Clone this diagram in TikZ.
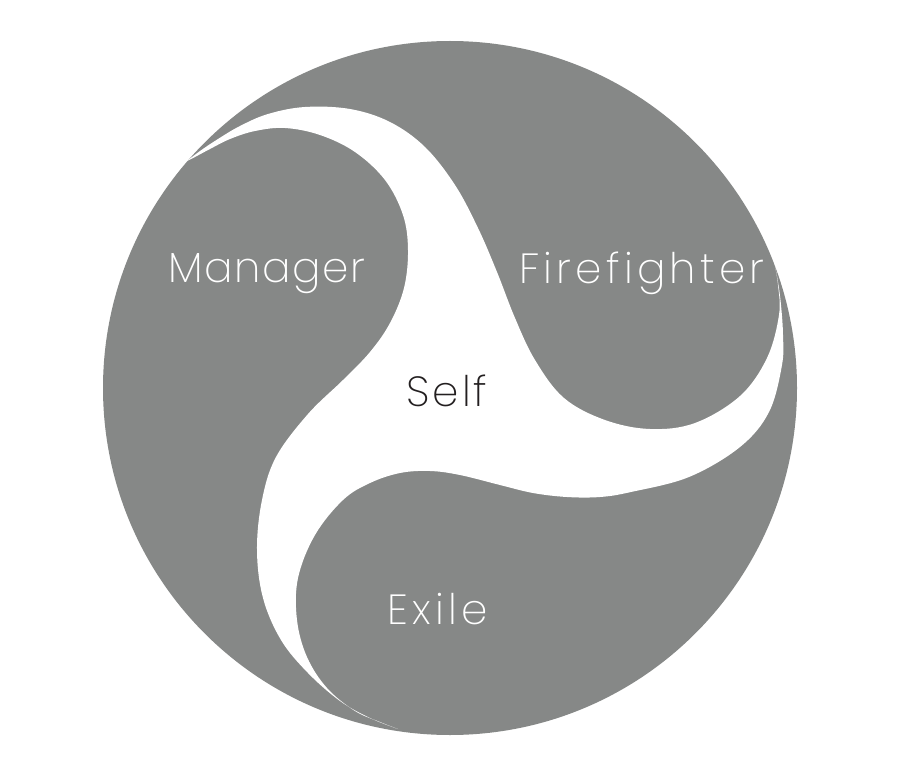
\documentclass[tikz,border=0pt]{standalone}
\usepackage{fontspec}
\newfontfamily\partfont{Poppins}[UprightFont=* ExtraLight, LetterSpace=7]
\newfontfamily\partfontnarrow{Poppins}[UprightFont=* ExtraLight, LetterSpace=4]
\newfontfamily\partfontwide{Poppins}[UprightFont=* ExtraLight, LetterSpace=10]
\definecolor{partgray}{RGB}{134,136,135}
\definecolor{selfink}{RGB}{35,31,32}

\begin{document}
\begin{tikzpicture}[x=0.3mm, y=-0.3mm,
  lbl/.style={font=\partfont\fontsize{36}{40}\selectfont, text=white, inner sep=0pt, anchor=base}]
\useasboundingbox (0,0) rectangle (900,778);
\fill[white] (0,0) rectangle (900,778);
\fill[partgray] (450,388) circle (347);
\fill[white] plot[smooth, tension=0.6] coordinates {(187,161) (200,151) (218,139) (240,126) (268,114) (305,107) (350,109) (390,122) (425,147) (455,185) (478,228) (497,272) (515,318) (535,360) (564,398) (605,420) (650,429) (695,423) (740,396) (767,358) (779,315) (778,285) (774,261)}
  -- plot[smooth, tension=0.6] coordinates {(774,261) (778,282) (781,305) (783,335) (782,365) (769,412) (740,447) (689,477) (631,492) (600,497) (567,497) (533,493) (500,485) (460,475) (430,471) (400,473) (370,483) (343,500) (315,535) (298,578) (297,620) (307,657) (327,688) (355,711) (380,722) (398,729)}
  -- plot[smooth, tension=0.6] coordinates {(398,729) (370,718) (340,701) (308,673) (281,640) (263,598) (257,550) (262,500) (276,457) (308,414) (343,380) (370,352) (390,323) (404,288) (408,250) (403,215) (385,180) (355,152) (320,135) (285,128) (255,131) (230,139) (210,149) (195,157) (187,161)}
  -- cycle;
\node[lbl, font=\partfontnarrow\fontsize{36}{40}\selectfont] (Man) at (267,282) {Manager};
\node[lbl, font=\partfontwide\fontsize{36}{40}\selectfont] (Fire) at (642,283) {Firefighter};
\node[lbl, text=selfink] (Self) at (447,406) {Self};
\node[lbl, font=\partfontwide\fontsize{36}{40}\selectfont] (Ex) at (438,624) {Exile};
\end{tikzpicture}
\end{document}
